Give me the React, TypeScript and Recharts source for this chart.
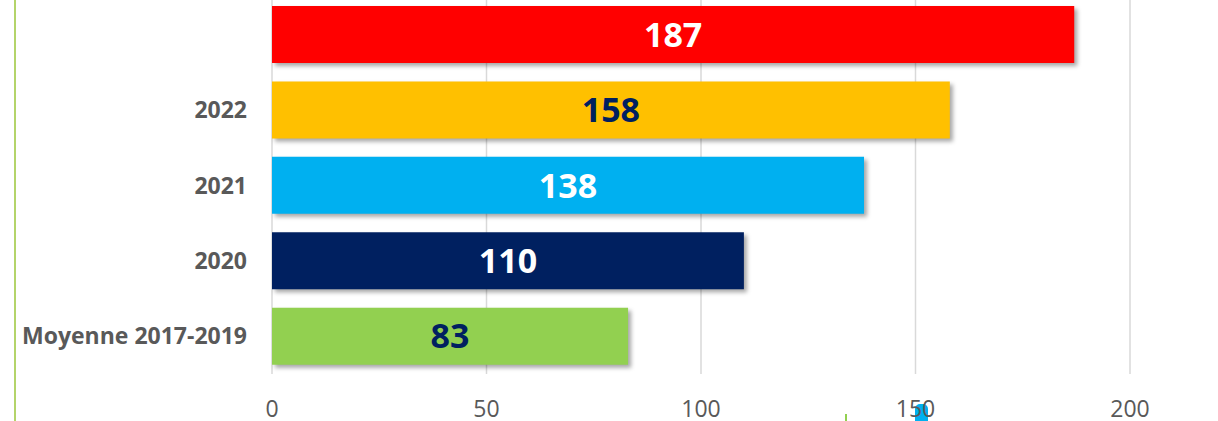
import { BarChart, Bar, XAxis, YAxis, CartesianGrid, Cell, LabelList } from 'recharts'

const categories = ['', '2022', '2021', '2020', 'Moyenne 2017-2019']
const values = [187, 158, 138, 110, 83]
const barColors = ['#FF0000', '#FFC000', '#00B0F0', '#002060', '#92D050']
const labelColors = ['#FFFFFF', '#002060', '#FFFFFF', '#FFFFFF', '#002060']
const xTicks = [0, 50, 100, 150, 200]

const data = categories.map((name, i) => ({ name, value: values[i] }))

const renderLabel = (props: any) => {
  const { x, y, width, height, value, index } = props
  return (
    <text
      x={x + width / 2}
      y={y + height / 2}
      dy="0.36em"
      textAnchor="middle"
      fill={labelColors[index]}
      style={{ fontFamily: 'Open Sans', fontWeight: 700, fontSize: 34 }}
    >
      {value}
    </text>
  )
}

export default function App() {
  return (
    <div style={{ position: 'absolute', left: 0, top: 0, width: 1218, height: 421, overflow: 'hidden', background: '#fff' }}>
      <div style={{ position: 'absolute', left: 14, top: 0, width: 2, height: 421, background: '#B4D46A' }} />
      <div style={{ position: 'absolute', left: 845, top: 414, width: 2, height: 7, background: '#92D050' }} />
      <div style={{ position: 'absolute', left: 915, top: 404, width: 13, height: 17, background: '#00B0F0', borderRadius: '5px 5px 0 0' }} />
      <div style={{ position: 'absolute', left: 0, top: -3 }}>
        <BarChart
          width={1218}
          height={424}
          data={data}
          layout="vertical"
          margin={{ top: 0, right: 88, bottom: 0, left: 0 }}
          barCategoryGap="12%"
        >
          <CartesianGrid horizontal={false} stroke="#D9D9D9" strokeWidth={1.5} />
          <XAxis
            type="number"
            domain={[0, 200]}
            ticks={xTicks}
            axisLine={false}
            tickLine={false}
            tickSize={0}
            tickMargin={27}
            height={47}
            tick={{ fill: '#595959', fontSize: 23, fontFamily: 'Open Sans' }}
          />
          <YAxis
            type="category"
            dataKey="name"
            width={272}
            axisLine={false}
            tickLine={false}
            tickSize={0}
            tickMargin={25}
            tick={{ fill: '#595959', fontSize: 23, fontWeight: 700, fontFamily: 'Open Sans' }}
          />
          <Bar dataKey="value" isAnimationActive={false}>
            {data.map((d, i) => (
              <Cell
                key={`cell-${i}`}
                fill={barColors[i]}
                style={{ filter: 'drop-shadow(3px 3px 2px rgba(0,0,0,0.35))' }}
              />
            ))}
            <LabelList dataKey="value" content={renderLabel} />
          </Bar>
        </BarChart>
      </div>
    </div>
  )
}
